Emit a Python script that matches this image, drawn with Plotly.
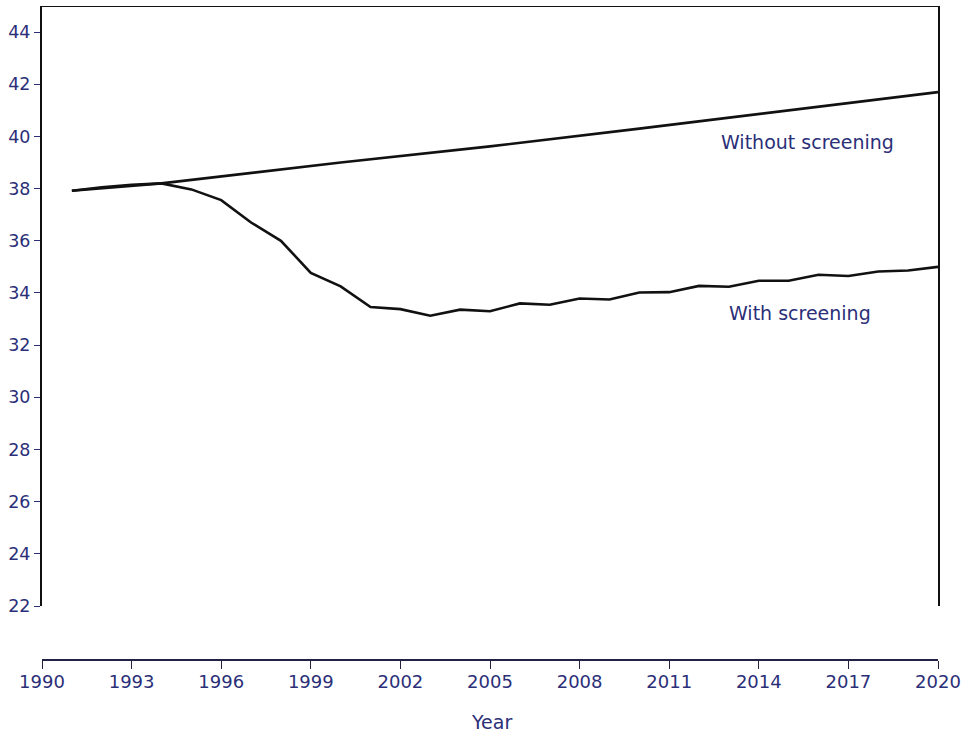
import plotly.graph_objects as go

years = list(range(1991, 2021))
without_years = [1991, 1994, 2000, 2005, 2010, 2015, 2020]
without_vals = [37.92, 38.2, 39.0, 39.62, 40.3, 41.0, 41.7]
with_vals = [37.92, 38.05, 38.15, 38.2, 37.97, 37.56, 36.7, 36.0, 34.77, 34.25,
             33.46, 33.38, 33.13, 33.36, 33.3, 33.6, 33.55, 33.79, 33.75, 34.02,
             34.03, 34.27, 34.24, 34.47, 34.47, 34.7, 34.65, 34.82, 34.86, 35.0]
x_ticks = list(range(1990, 2021, 3))
y_ticks = list(range(22, 45, 2))

navy = "#2b2f78"
font = "DejaVu Sans, Arial, sans-serif"
y_top = 45.0

fig = go.Figure()
fig.add_trace(go.Scatter(x=without_years, y=without_vals, mode="lines",
                         line=dict(color="#111111", width=2.6), showlegend=False))
fig.add_trace(go.Scatter(x=years, y=with_vals, mode="lines",
                         line=dict(color="#111111", width=2.6), showlegend=False))

fig.add_annotation(x=2015.64, y=39.78, text="Without screening", showarrow=False,
                   font=dict(family=font, size=19, color=navy))
fig.add_annotation(x=2015.38, y=33.23, text="With screening", showarrow=False,
                   font=dict(family=font, size=19, color=navy))
fig.add_annotation(xref="paper", yref="paper", x=0.502, y=-0.0948, yanchor="middle",
                   text="Year", showarrow=False, font=dict(family=font, size=19, color=navy))

fig.add_shape(type="line", xref="paper", yref="y", x0=0, x1=1, y0=y_top, y1=y_top,
              line=dict(color="#111111", width=2))

fig.update_layout(
    width=966, height=734,
    margin=dict(l=42, r=28, t=6, b=74),
    paper_bgcolor="white", plot_bgcolor="white",
    font=dict(family=font, size=18, color=navy),
    xaxis=dict(range=[1990, 2020], tickvals=x_ticks, ticks="outside", ticklen=8,
               tickcolor="#222244", showline=True, linecolor="#222244", linewidth=1.8,
               showgrid=False, zeroline=False, anchor="free", position=0,
               ticklabelstandoff=-3,
               tickfont=dict(size=18, color=navy), automargin=False),
    yaxis=dict(range=[22, y_top], domain=[54/654, 1], tickvals=y_ticks, ticks="outside",
               ticklen=6, tickcolor=navy, showline=True, linecolor="#111111",
               linewidth=2, mirror=True, showgrid=False, zeroline=False,
               tickfont=dict(size=17.5, color=navy), automargin=False),
)

fig.write_html("out.html", config={"displayModeBar": False},
               post_script="document.body.style.margin='0';document.body.style.overflow='hidden';")
